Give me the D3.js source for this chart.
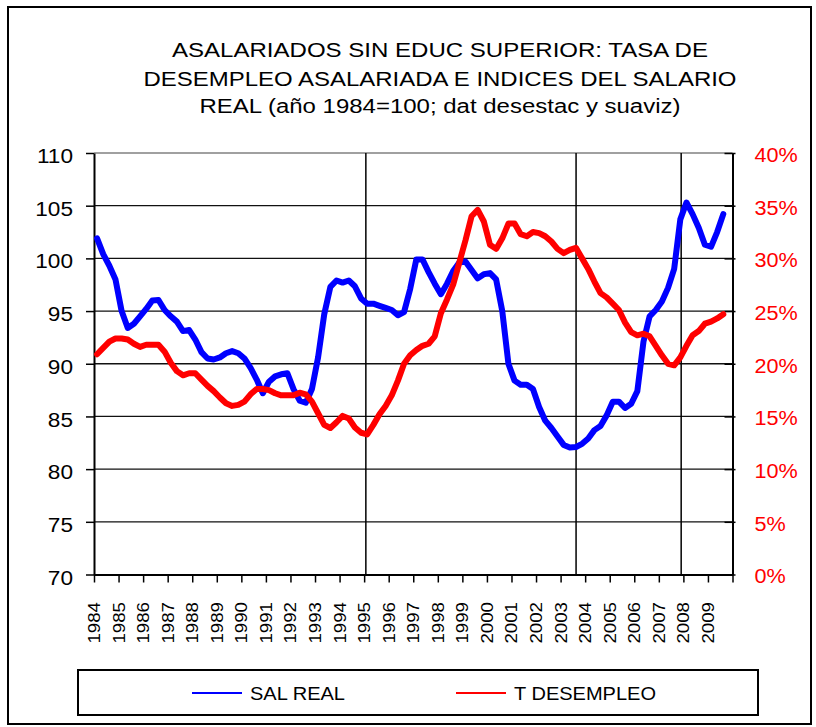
<!DOCTYPE html>
<html><head><meta charset="utf-8">
<script src="https://cdn.jsdelivr.net/npm/d3@7/dist/d3.min.js"></script>
<style>
html,body{margin:0;padding:0;background:#fff;}
svg text{font-family:"Liberation Sans",Arial,sans-serif;}
</style></head>
<body>
<svg id="chart" width="816" height="727"></svg>
<script>
// ---- data ----
const titleLines = [
  "ASALARIADOS SIN EDUC SUPERIOR:  TASA DE",
  "DESEMPLEO ASALARIADA E INDICES DEL SALARIO",
  "REAL (año 1984=100; dat desestac y suaviz)"
];
const startYear = 1984;           // first quarter = 1984 Q1
const yearLabels = d3.range(1984, 2010).map(String);
const leftTicks = [70, 75, 80, 85, 90, 95, 100, 105, 110];
const rightTicks = [0, 5, 10, 15, 20, 25, 30, 35, 40];
const periodMarks = [1995.07, 2003.63, 2007.91];
const seriesNames = ["SAL REAL", "T DESEMPLEO"];
// SAL REAL index (quarterly, 1984Q1 .. 2009Q3)
const salReal = [
  101.9, 100.4, 99.3, 98.0,
  95.0, 93.4, 93.8, 94.5,
  95.2, 96.0, 96.05, 95.1,
  94.5, 94.0, 93.1, 93.2,
  92.3, 91.1, 90.5, 90.4,
  90.6, 91.0, 91.2, 91.0,
  90.5, 89.6, 88.5, 87.2,
  88.3, 88.8, 89.0, 89.1,
  87.6, 86.5, 86.3, 87.6,
  90.6, 94.7, 97.3, 97.9,
  97.7, 97.9, 97.35, 96.2,
  95.7, 95.7, 95.5, 95.3,
  95.1, 94.6, 94.9, 97.1,
  99.9, 99.9, 98.7, 97.6,
  96.6, 97.6, 98.8, 99.6,
  99.7, 98.9, 98.1, 98.5,
  98.6, 98.0, 95.0, 90.0,
  88.4, 88.0, 88.0, 87.6,
  85.9, 84.6, 83.9, 83.1,
  82.3, 82.05, 82.1, 82.4,
  82.9, 83.7, 84.1, 85.1,
  86.4, 86.4, 85.8, 86.2,
  87.4, 92.1, 94.5, 95.1,
  95.9, 97.2, 99.0, 103.7,
  105.3, 104.2, 102.9, 101.3,
  101.1, 102.5, 104.2
];
// T DESEMPLEO (% , quarterly, 1984Q1 .. 2009Q3)
const tDesempleo = [
  20.9, 21.5, 22.1, 22.4,
  22.4, 22.3, 21.9, 21.6,
  21.8, 21.8, 21.8, 21.15,
  20.1, 19.3, 18.9, 19.1,
  19.1, 18.5, 17.9, 17.4,
  16.8, 16.25, 16.0, 16.1,
  16.4, 17.1, 17.6, 17.6,
  17.5, 17.2, 17.0, 17.0,
  17.0, 17.25, 17.1, 16.4,
  15.3, 14.2, 13.9, 14.45,
  15.05, 14.8, 13.95, 13.45,
  13.3, 14.2, 15.2, 16.0,
  17.0, 18.4, 20.0, 20.8,
  21.3, 21.7, 21.9, 22.6,
  24.8, 26.1, 27.5, 29.6,
  31.7, 34.0, 34.6, 33.5,
  31.3, 30.9, 31.9, 33.3,
  33.3, 32.3, 32.1, 32.5,
  32.4, 32.1, 31.6, 30.9,
  30.5, 30.8, 31.0, 30.0,
  29.0, 27.8, 26.7, 26.3,
  25.7, 25.1, 23.9, 23.0,
  22.7, 22.85, 22.6, 21.7,
  20.8, 20.0, 19.85, 20.6,
  21.7, 22.7, 23.1, 23.8,
  24.0, 24.3, 24.7
];

// ---- layout ----
const svg = d3.select("#chart");
const L = 94, R = 732.5, T = 153, B = 574.5;
const x = d3.scaleLinear().domain([1984, 2010]).range([L, R]);
const yL = d3.scaleLinear().domain([70, 110]).range([B, T]);
const yR = d3.scaleLinear().domain([0, 40]).range([B, T]);
const qx = i => x(startYear + Math.floor(i / 4) + ((i % 4) + 0.5) / 4);

function stretch(sel, f) {
  sel.each(function () {
    const len = this.getComputedTextLength();
    d3.select(this).attr("textLength", len * f).attr("lengthAdjust", "spacingAndGlyphs");
  });
}

// outer frame
svg.append("rect").attr("x", 8).attr("y", 7).attr("width", 803).attr("height", 717)
  .attr("fill", "#fff").attr("stroke", "#000").attr("stroke-width", 2);

// title
const tLens = [536, 593, 481];
const tBase = [57, 86, 113];
svg.append("g").selectAll("text").data(titleLines).join("text")
  .attr("x", 440).attr("y", (d, i) => tBase[i])
  .attr("text-anchor", "middle").attr("font-size", 20).attr("fill", "#000")
  .attr("textLength", (d, i) => tLens[i]).attr("lengthAdjust", "spacingAndGlyphs")
  .text(d => d);

// horizontal gridlines
svg.append("g").selectAll("line").data(leftTicks.filter(v => v > 70 && v < 110)).join("line")
  .attr("x1", L).attr("x2", R).attr("y1", d => yL(d)).attr("y2", d => yL(d))
  .attr("stroke", "#111").attr("stroke-width", 1.3);
// top border (gray)
svg.append("line").attr("x1", L).attr("x2", R).attr("y1", T).attr("y2", T)
  .attr("stroke", "#808080").attr("stroke-width", 1.5);

// period vertical lines
svg.append("g").selectAll("line").data(periodMarks).join("line")
  .attr("x1", d => x(d)).attr("x2", d => x(d)).attr("y1", T).attr("y2", B)
  .attr("stroke", "#000").attr("stroke-width", 1.5);

// left axis
const gL = svg.append("g").attr("transform", `translate(${L},0)`)
  .call(d3.axisLeft(yL).tickValues(leftTicks).tickSize(8).tickSizeOuter(0).tickPadding(13));
gL.select(".domain").attr("stroke", "#000").attr("stroke-width", 2);
gL.selectAll(".tick line").attr("stroke", "#000").attr("stroke-width", 1.5);
gL.selectAll(".tick text").attr("font-size", 20).attr("fill", "#000").attr("dy", "0.48em")
  .attr("font-family", "Liberation Sans, Arial, sans-serif");
stretch(gL.selectAll(".tick text"), 1.13);

// right axis
const gR = svg.append("g").attr("transform", `translate(${R},0)`)
  .call(d3.axisRight(yR).tickValues(rightTicks).tickSize(3).tickSizeOuter(0).tickPadding(19)
    .tickFormat(d => d + "%"));
gR.select(".domain").attr("stroke", "#000").attr("stroke-width", 2);
gR.selectAll(".tick line").attr("x1", -8).attr("x2", 3).attr("stroke", "#000").attr("stroke-width", 1.5);
gR.selectAll(".tick text").attr("font-size", 20).attr("fill", "#ff0000").attr("dy", "0.42em")
  .attr("font-family", "Liberation Sans, Arial, sans-serif");
stretch(gR.selectAll(".tick text"), 1.08);

// bottom axis
const gB = svg.append("g").attr("transform", `translate(0,${B})`)
  .call(d3.axisBottom(x).tickValues(d3.range(1984, 2011)).tickSize(8).tickSizeOuter(0).tickFormat(() => ""));
gB.select(".domain").attr("stroke", "#000").attr("stroke-width", 2);
gB.selectAll(".tick line").attr("stroke", "#000").attr("stroke-width", 1.5);
// rotated year labels
const xl = svg.append("g").selectAll("text").data(yearLabels).join("text")
  .attr("transform", d => `translate(${x(+d) + 6},602) rotate(-90)`)
  .attr("text-anchor", "end").attr("font-size", 17).attr("fill", "#000")
  .text(d => d);
stretch(xl, 1.1);

// series lines
const lineSal = d3.line().x((d, i) => qx(i)).y(d => yL(d));
const lineDes = d3.line().x((d, i) => qx(i)).y(d => yR(d));
svg.append("path").datum(salReal).attr("d", lineSal).attr("fill", "none")
  .attr("stroke", "#0000ff").attr("stroke-width", 6).attr("stroke-linejoin", "round").attr("stroke-linecap", "round");
svg.append("path").datum(tDesempleo).attr("d", lineDes).attr("fill", "none")
  .attr("stroke", "#ff0000").attr("stroke-width", 6).attr("stroke-linejoin", "round").attr("stroke-linecap", "round");

// legend
const lg = svg.append("g");
lg.append("rect").attr("x", 78).attr("y", 670).attr("width", 680).attr("height", 45)
  .attr("fill", "#fff").attr("stroke", "#000").attr("stroke-width", 2);
const legX = [192, 456];
const legCol = ["#0000ff", "#ff0000"];
const legLen = [95, 142];
seriesNames.forEach((n, i) => {
  lg.append("line").attr("x1", legX[i]).attr("x2", legX[i] + 50).attr("y1", 693).attr("y2", 693)
    .attr("stroke", legCol[i]).attr("stroke-width", 2);
  lg.append("text").attr("x", legX[i] + 58).attr("y", 700).attr("font-size", 18.5).attr("fill", "#000")
    .attr("textLength", legLen[i]).attr("lengthAdjust", "spacingAndGlyphs").text(n);
});
</script>
</body></html>
